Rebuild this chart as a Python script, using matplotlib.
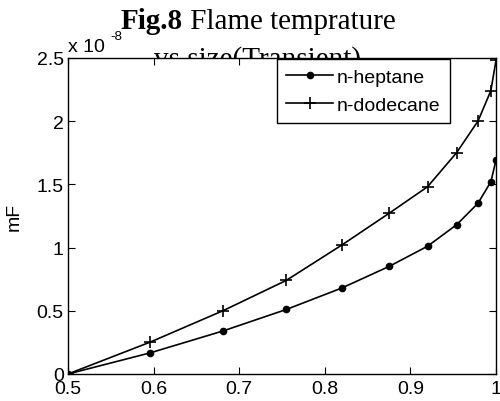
import matplotlib.pyplot as plt
from matplotlib.ticker import FuncFormatter

# size ratio (x) shared by both fuels
size = [0.5, 0.596, 0.681, 0.755, 0.820, 0.875, 0.920, 0.954, 0.979, 0.994, 1.0]
# mF values, in units of 1e-8
heptane = [0, 0.167, 0.34, 0.51, 0.68, 0.85, 1.01, 1.18, 1.35, 1.52, 1.69]
dodecane = [0, 0.252, 0.50, 0.74, 1.02, 1.27, 1.48, 1.75, 2.0, 2.24, 2.48]

xticks = [0.5, 0.6, 0.7, 0.8, 0.9, 1.0]
yticks = [0, 0.5, 1, 1.5, 2, 2.5]

plt.rcParams['font.family'] = ['Liberation Sans', 'DejaVu Sans']

fig = plt.figure(figsize=(5, 4.02), dpi=100)
ax = fig.add_axes([0.136, 0.0672, 0.856, 0.7866])

ax.plot(size, heptane, color='black', lw=1.2, marker='o', ms=4.5, label='n-heptane')
ax.plot(size, dodecane, color='black', lw=1.2, marker='+', ms=8, mew=1.2, label='n-dodecane')

ax.set_xlim(0.5, 1.0)
ax.set_ylim(0, 2.5)
ax.set_xticks(xticks)
ax.set_yticks(yticks)
fmt = FuncFormatter(lambda v, p: ('%g' % v))
ax.xaxis.set_major_formatter(fmt)
ax.yaxis.set_major_formatter(fmt)
ax.tick_params(direction='in', top=True, right=True, length=5, labelsize=14)
ax.tick_params(axis='x', pad=4)
ax.tick_params(axis='y', pad=3)
for s in ax.spines.values():
    s.set_linewidth(1.0)

ax.set_ylabel('mF', fontsize=14, labelpad=10)

leg = ax.legend(loc='upper right', bbox_to_anchor=(0.8925, 0.995), fontsize=14,
                frameon=True, fancybox=False, edgecolor='black', framealpha=1,
                handlelength=2.4, handletextpad=0.2, borderpad=0.48, labelspacing=0.5,
                borderaxespad=0)
leg.get_frame().set_linewidth(1.0)

# MATLAB style exponent label
fig.text(0.136, 0.871, 'x 10', fontsize=14, ha='left', va='baseline')
fig.text(0.220, 0.900, '-8', fontsize=9.5, ha='left', va='baseline')

# title sits behind the axes, so its second line is partly hidden
fig.text(0.366, 0.928, 'Fig.8', fontsize=21, fontweight='bold', ha='right', va='baseline',
         family='Liberation Serif', zorder=-1)
fig.text(0.366, 0.928, ' Flame temprature', fontsize=21, ha='left', va='baseline',
         family='Liberation Serif', zorder=-1)
fig.text(0.516, 0.833, 'vs size(Transient)', fontsize=21, ha='center', va='baseline',
         family='Liberation Serif', zorder=-1)

fig.savefig('out.png', dpi=100)
